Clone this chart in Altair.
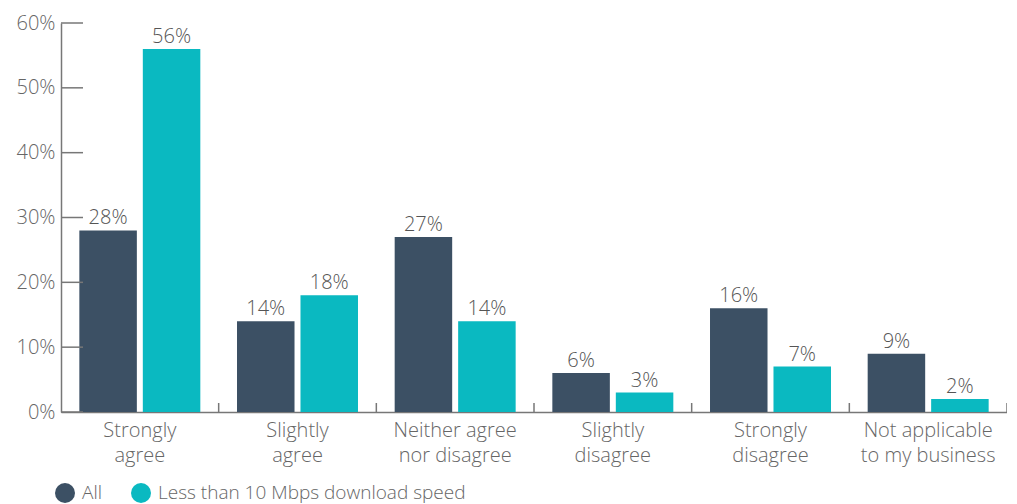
import altair as alt
import pandas as pd

categories = ["Strongly\nagree", "Slightly\nagree", "Neither agree\nnor disagree",
              "Slightly\ndisagree", "Strongly\ndisagree", "Not applicable\nto my business"]
series = ["All", "Less than 10 Mbps download speed"]
all_vals = [0.28, 0.14, 0.27, 0.06, 0.16, 0.09]
slow_vals = [0.56, 0.18, 0.14, 0.03, 0.07, 0.02]
y_ticks = [0.0, 0.1, 0.2, 0.3, 0.4, 0.5, 0.6]

rows = []
for c, a, s in zip(categories, all_vals, slow_vals):
    rows.append({"cat": c, "series": series[0], "value": a})
    rows.append({"cat": c, "series": series[1], "value": s})
df = pd.DataFrame(rows)
cat_df = pd.DataFrame({"cat": categories})
tick_df = pd.DataFrame({"v": y_ticks})

FONT = "Open Sans"
GRAY = "#666666"
W, H = 946, 389

x_enc = alt.X("cat:N", sort=categories, title=None,
              scale=alt.Scale(paddingInner=0, paddingOuter=0),
              axis=alt.Axis(labelExpr="split(datum.label, '\\n')", labelAngle=0,
                            ticks=False, labelFont=FONT, labelFontSize=20,
                            labelColor=GRAY, labelPadding=8, labelLineHeight=25,
                            domainColor="#777777", domainWidth=1.5,
                            labelFontWeight=300, labelLimit=0))
y_enc = alt.Y("value:Q", title=None,
              scale=alt.Scale(domain=[0, 0.6], nice=False),
              axis=alt.Axis(format=".0%", values=y_ticks, grid=False, ticks=False,
                            labelFont=FONT, labelFontSize=20, labelColor=GRAY,
                            labelPadding=6, domainColor="#777777", domainWidth=1.5,
                            labelFontWeight=300))
color = alt.Color("series:N", sort=series,
                  scale=alt.Scale(domain=series, range=["#3c5064", "#0ab9c1"]),
                  legend=alt.Legend(title=None, orient="none", legendX=-6, legendY=460,
                                    direction="horizontal", symbolType="circle",
                                    symbolSize=400, symbolStrokeWidth=0,
                                    labelFont=FONT, labelFontSize=19, labelColor=GRAY,
                                    labelFontWeight=300, labelOffset=7, labelLimit=0,
                                    columnPadding=28))
xoff = alt.XOffset("series:N", sort=series,
                   scale=alt.Scale(paddingInner=0.094, paddingOuter=0.289))

bars = alt.Chart(df).mark_bar().encode(x=x_enc, y=y_enc, color=color, xOffset=xoff)
labels = alt.Chart(df).mark_text(baseline="bottom", dy=-2, font=FONT, fontSize=20,
                                 color="#555555", fontWeight=300).encode(
    x=alt.X("cat:N", sort=categories), xOffset=xoff, y="value:Q",
    text=alt.Text("value:Q", format=".0%"))
xticks = alt.Chart(cat_df).mark_rule(color="#777777", strokeWidth=1.5).encode(
    x=alt.X("cat:N", sort=categories, bandPosition=1),
    y=alt.value(H - 9), y2=alt.value(H))
yticks = alt.Chart(tick_df).mark_rule(color="#777777", strokeWidth=1.5).encode(
    y=alt.Y("v:Q"), x=alt.value(0), x2=alt.value(22))

chart = alt.layer(bars, labels, xticks, yticks).properties(
    width=W, height=H,
    autosize=alt.AutoSizeParams(type="none"),
    padding={"left": 53, "top": 15, "right": 0, "bottom": 92},
).configure_view(stroke=None)

chart.save("out.html", embed_options={"renderer": "svg", "actions": False})
